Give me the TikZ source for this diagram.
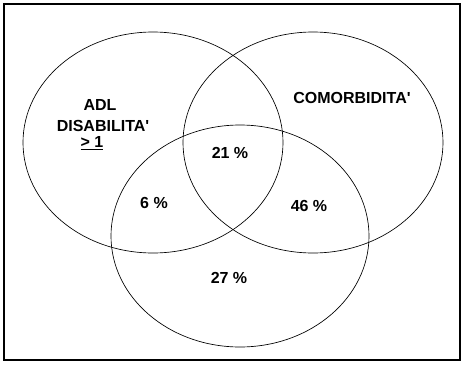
\documentclass[tikz,border=0pt]{standalone}
\usepackage{tikz}
\usepackage{fontspec}
\setmainfont{Liberation Sans}

\begin{document}
\begin{tikzpicture}[x=0.75pt,y=0.75pt,yscale=-1,xscale=1]
\tikzset{venn/.style={draw, line width=0.5pt}, lbl/.style={inner sep=0.75pt, font=\fontsize{12}{14}\selectfont\bfseries}}
\useasboundingbox (0,0) rectangle (465,365);

%Shape: Rectangle [id:frame]
\draw [line width=0.9pt] (4,4) rectangle (460,360);
%Shape: Ellipse [id:adl]
\draw [venn] (153,142.5) ellipse [x radius=130, y radius=110.5];
%Shape: Ellipse [id:comorb]
\draw [venn] (313,142.5) ellipse [x radius=130, y radius=110.5];
%Shape: Ellipse [id:bottom]
\draw [venn] (240,236) ellipse [x radius=129, y radius=111];

% Text Node
\draw (100,105) node [lbl] (adl) {ADL};
% Text Node
\draw (103,126) node [lbl] (disab) {DISABILITA\textquotesingle};
% Text Node
\draw (92,143) node [lbl] (gtone) {\underline{> 1}};
% Text Node
\draw (352,98) node [lbl] (comorb) {COMORBIDITA\textquotesingle};
% Text Node
\draw (230,153) node [lbl] (pctall) {21 \%};
% Text Node
\draw (154,203) node [lbl] (pctleft) {6 \%};
% Text Node
\draw (309,206) node [lbl] (pctright) {46 \%};
% Text Node
\draw (229,278) node [lbl] (pctlow) {27 \%};

\end{tikzpicture}
\end{document}
